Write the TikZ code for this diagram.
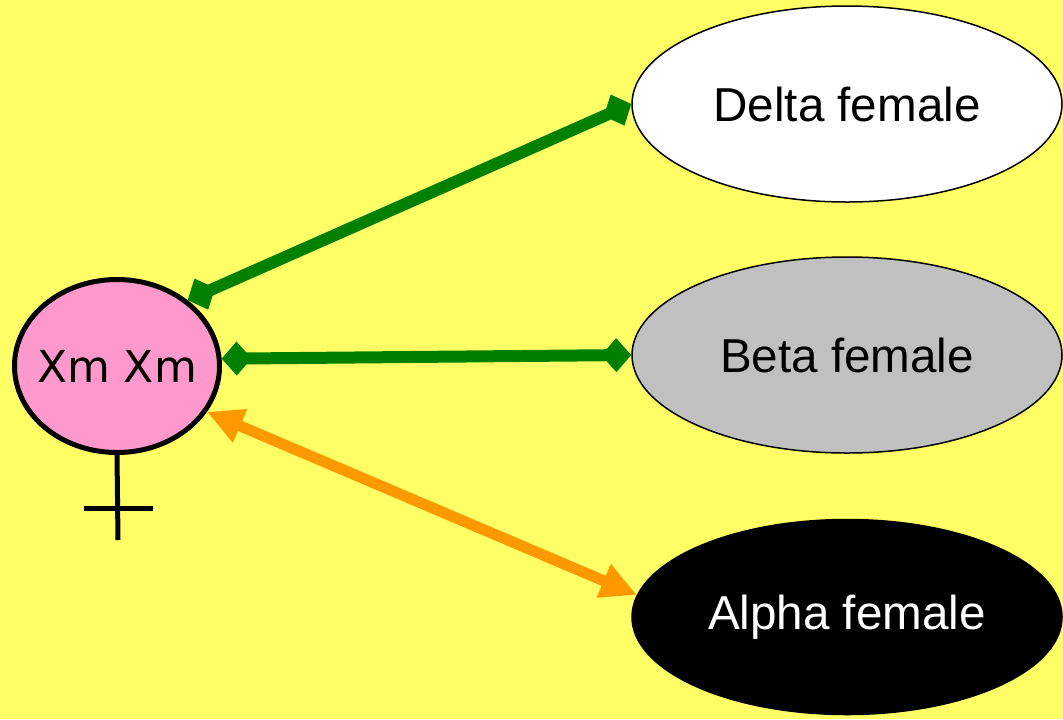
\documentclass[tikz,border=0pt]{standalone}
\usepackage{fontspec}
\setmainfont{Liberation Sans}
\newfontfamily\handfont{DejaVu Sans}
\usetikzlibrary{arrows.meta,shapes.geometric}
\definecolor{paper}{HTML}{FFFF66}
\definecolor{rose}{HTML}{FF99CC}
\definecolor{leaf}{HTML}{008000}
\definecolor{amber}{HTML}{FF9900}
\definecolor{silver}{HTML}{C0C0C0}

\begin{document}
\begin{tikzpicture}[x=0.5pt,y=-0.5pt,
      morph/.style={ellipse,draw=black,line width=.75pt,inner sep=0pt,
                    minimum width=215pt,minimum height=98pt,
                    font=\fontsize{23.8}{28}\selectfont},
      genotype/.style={ellipse,draw=black,fill=rose,line width=2.5pt,
                    inner xsep=-5pt,inner ysep=0pt,
                    minimum width=102.5pt,minimum height=86.5pt,
                    font=\handfont\fontsize{22}{26}\selectfont},
      bond/.style={{Diamond[length=15pt,width=17pt]}-{Diamond[length=15pt,width=17pt]},
                    line width=6pt,draw=leaf},
      rival/.style={{Triangle[length=18pt,width=17pt]}-{Triangle[length=18pt,width=17pt]},
                    line width=5.5pt,draw=amber},
      venus/.style={line width=2.5pt,draw=black}]
    \fill[paper] (0,0) rectangle (1063,719);
    \useasboundingbox (0,0) rectangle (1063,719);
    \node[genotype] (xm) at (117,366) {Xm Xm};
    \node[morph,fill=white] (delta) at (847,104) {Delta female};
    \node[morph,fill=silver] (beta) at (847,355) {Beta female};
    \node[morph,fill=black,text=white,minimum height=97.5pt] (alpha) at (847,617) {Alpha female};
    \draw[bond] (xm.43) -- (delta.west);
    \draw[bond] (xm.4) -- (beta.west);
    \draw[rival] (xm.-27.5) -- (alpha.174);
    % female sign below the genotype
    \coordinate (foot) at (118,540);
    \draw[venus] (xm.south) -- (foot);
    \draw[venus] (84,508) -- (153,508);
\end{tikzpicture}
\end{document}
